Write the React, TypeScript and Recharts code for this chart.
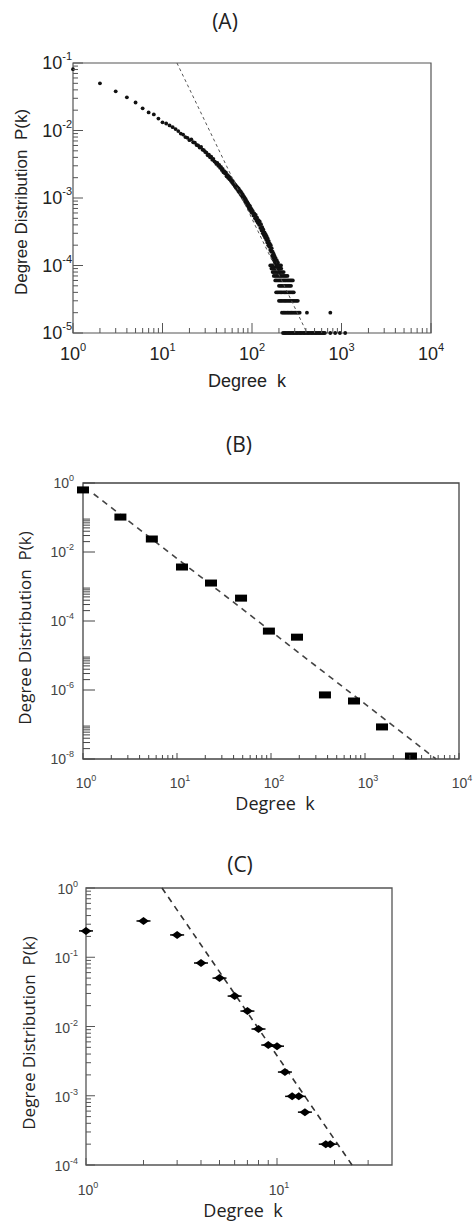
import { ReferenceArea, Scatter, ScatterChart, XAxis, YAxis } from "recharts";

// ---- panel A: degree distribution, dense dots ----
const degA = [
  1, 2, 3, 4, 5, 6, 7, 8, 9, 10, 11, 12, 13, 14, 15, 16, 17, 18, 19, 20, 21, 22, 23, 24, 25, 26, 27, 28, 29, 30,
  31, 32, 33, 34, 35, 36, 37, 38, 39, 40, 41, 42, 43, 44, 45, 46, 47, 48, 49, 50, 51, 52, 53, 54, 55, 56, 57, 58,
  59, 60, 61, 62, 63, 64, 65, 66, 67, 68, 69, 70, 71, 72, 73, 74, 75, 76, 77, 78, 79, 80, 81, 82, 83, 84, 85, 86,
  87, 88, 89, 90, 91, 92, 93, 94, 95, 96, 97, 98, 99, 100, 102, 104, 106, 108, 110, 112, 114, 116, 118, 120, 122,
  124, 126, 128, 130, 132, 134, 136, 138, 140, 142, 144, 146, 148, 150, 152, 154, 156, 158, 160, 162, 164, 166,
  168, 170, 172, 174, 176, 178, 180, 183, 186, 189, 192, 195, 198,
];
const probA = [
  0.081, 0.05, 0.038, 0.031, 0.026, 0.0213, 0.0185, 0.0173, 0.015, 0.0132, 0.0127, 0.0119, 0.0112, 0.0105, 0.0098,
  0.009, 0.0087, 0.008, 0.0078, 0.0072, 0.0074, 0.0067, 0.0066, 0.0061, 0.006, 0.0056, 0.0057, 0.0052, 0.0051,
  0.0048, 0.0047, 0.0043, 0.0044, 0.004, 0.0041, 0.0037, 0.0038, 0.0035, 0.0034, 0.0032, 0.0033, 0.003, 0.0031,
  0.0028, 0.0029, 0.0026, 0.0027, 0.0024, 0.0025, 0.0023, 0.0024, 0.0021, 0.0022, 0.002, 0.0021, 0.0019, 0.002,
  0.0018, 0.00185, 0.0017, 0.00178, 0.0016, 0.00166, 0.0015, 0.00158, 0.00142, 0.0015, 0.00136, 0.00144, 0.00128,
  0.00138, 0.00122, 0.0013, 0.00116, 0.00124, 0.0011, 0.00118, 0.00104, 0.00112, 0.00098, 0.00106, 0.00094, 0.001,
  0.00088, 0.00096, 0.00084, 0.0009, 0.00079, 0.00086, 0.00076, 0.00082, 0.00072, 0.00078, 0.00068, 0.00076,
  0.00066, 0.00071, 0.00062, 0.00068, 0.0006, 0.00064, 0.00055, 0.00059, 0.0005, 0.00056, 0.00046, 0.00051,
  0.00043, 0.00047, 0.0004, 0.00045, 0.00036, 0.00041, 0.00033, 0.00037, 0.0003, 0.00034, 0.00028, 0.00031,
  0.00026, 0.00029, 0.00024, 0.00027, 0.00022, 0.00025, 0.0002, 0.00023, 0.00019, 0.00021, 0.00017, 0.0002,
  0.00016, 0.00018, 0.00014, 0.00016, 0.00013, 0.00015, 0.00012, 0.00014, 0.00011, 0.00013, 0.0001, 0.00012,
  0.00009, 0.00011, 0.00008,
];
// low-count tail: one row of degrees per probability level
const tailProbA = [1e-5, 2e-5, 3e-5, 4e-5, 5e-5, 6e-5, 7e-5, 8e-5, 9e-5, 1e-4];
const tailDegA = [
  [222, 230, 238, 246, 255, 264, 273, 283, 293, 303, 314, 325, 337, 349, 361, 374, 387, 401, 415, 430, 445, 461,
    477, 494, 511, 530, 548, 568, 588, 609, 630, 652, 750, 850, 960, 1100],
  [216, 224, 232, 240, 249, 258, 267, 276, 286, 296, 307, 318, 329, 341, 411, 750],
  [200, 207, 214, 222, 230, 238, 246, 255, 264, 273, 283, 293, 303, 314, 325],
  [186, 193, 200, 207, 214, 222, 230, 238, 246, 255, 264, 273, 283, 293],
  [200, 207, 214, 222, 230, 238, 246, 255, 264, 273],
  [182, 188, 195, 202, 209, 216, 224, 232, 240, 249, 258, 267, 276, 286],
  [175, 181, 188, 195, 202, 209, 216, 224, 232, 240, 249],
  [170, 176, 182, 189, 196, 203, 210, 218, 226],
  [165, 171, 177, 184, 191, 198, 205, 212],
  [160, 166, 172, 178, 184, 190, 197, 204, 211],
];
const fitKA = [14.5, 412];
const fitPA = [0.1, 1e-5];

// ---- panel B: binned distribution ----
const degB = [1, 2.5, 5.4, 11.3, 23, 48, 95, 189, 375, 764, 1517, 3083];
const probB = [0.63, 0.103, 0.0238, 0.00367, 0.00126, 4.6e-4, 5.1e-5, 3.4e-5, 7.2e-7, 4.8e-7, 8.5e-8, 1.22e-8];
const fitKB = [1.3, 5700];
const fitPB = [0.48, 1e-8];

// ---- panel C ----
const degC = [1, 2, 3, 4, 5, 6, 7, 8, 9, 10, 11, 12, 13, 14, 18, 19];
const probC = [
  0.24, 0.334, 0.21, 0.0826, 0.05, 0.0275, 0.0167, 0.0092, 0.0054, 0.0052, 0.0022, 0.00098, 0.00098, 0.00058,
  0.0002, 0.0002,
];
const fitKC = [2.5, 24.7];
const fitPC = [1, 1e-4];

const zip = (ks: number[], ps: number[]) => ks.map((k, i) => ({ k, p: ps[i] }));

const dataA = [
  ...zip(degA, probA),
  ...tailDegA.flatMap((ks, i) => ks.map((k) => ({ k, p: tailProbA[i] }))),
];
const dataB = zip(degB, probB);
const dataC = zip(degC, probC);

// tick lists: multipliers inside each decade
const logTicks = (exps: number[], mults: number[]) => exps.flatMap((e) => mults.map((m) => m * Math.pow(10, e)));
const ALL = [1, 2, 3, 4, 5, 6, 7, 8, 9];

const isDecade = (v: number) => {
  const l = Math.log10(v);
  return Math.abs(l - Math.round(l)) < 1e-9;
};

type AxisStyle = {
  color: string;
  font: string;
  size: number;
  sup: number;
  rise: number;
  major: number;
  minor: number;
  gap: number;
  base: number;
  dx: number;
  labels?: number[];
};

const shouldLabel = (v: number, s: AxisStyle) =>
  s.labels ? s.labels.some((l) => Math.abs(l - v) / l < 1e-9) : isDecade(v);

const Pow = ({ x, y, v, s, anchor }: { x: number; y: number; v: number; s: AxisStyle; anchor: string }) => (
  <text x={x} y={y} textAnchor={anchor} fontSize={s.size} fill={s.color} fontFamily={s.font}>
    10
    <tspan dy={-s.rise} fontSize={s.sup}>
      {`${Math.round(Math.log10(v))}`}
    </tspan>
  </text>
);

const xTick = (s: AxisStyle, axisColor: string) => (props: any) => {
  const { x, y, payload } = props;
  const v = payload.value as number;
  const major = isDecade(v);
  return (
    <g>
      <line x1={x} x2={x} y1={y} y2={y - (major ? s.major : s.minor)} stroke={axisColor} strokeWidth={1} />
      {shouldLabel(v, s) && <Pow x={x + s.dx} y={y + s.base} v={v} s={s} anchor="middle" />}
    </g>
  );
};

const yTick = (s: AxisStyle, axisColor: string) => (props: any) => {
  const { x, y, payload } = props;
  const v = payload.value as number;
  const major = isDecade(v);
  return (
    <g>
      <line x1={x} x2={x + (major ? s.major : s.minor)} y1={y} y2={y} stroke={axisColor} strokeWidth={1} />
      {shouldLabel(v, s) && <Pow x={x - s.gap} y={y + s.base} v={v} s={s} anchor="end" />}
    </g>
  );
};

const dot = (r: number) => (p: any) => <circle cx={p.cx} cy={p.cy} r={r} fill="#111" />;
const block = (p: any) => <rect x={p.cx - 6} y={p.cy - 3.5} width={12} height={7} fill="#000" />;
const diamond = (p: any) => (
  <g>
    <line x1={p.cx - 7} x2={p.cx + 7} y1={p.cy} y2={p.cy} stroke="#000" strokeWidth={1.5} />
    <polygon
      points={`${p.cx - 5.5},${p.cy} ${p.cx},${p.cy - 4} ${p.cx + 5.5},${p.cy} ${p.cx},${p.cy + 4}`}
      fill="#000"
    />
  </g>
);
const none = () => <g />;

const SANS = "'Liberation Sans', Arial, sans-serif";
const OPEN = "'Open Sans', 'Noto Sans', sans-serif";

const Label = ({ x, y, text, size, font, rotate }: any) => (
  <div
    style={{
      position: "absolute",
      left: x,
      top: y,
      transform: `translate(-50%, -50%)${rotate ? " rotate(-90deg)" : ""}`,
      fontFamily: font,
      fontSize: size,
      lineHeight: 1,
      color: "#222",
      whiteSpace: "pre",
    }}
  >
    {text}
  </div>
);

const axA: AxisStyle = { color: "#222", font: SANS, size: 18, sup: 11, rise: 9, major: 10, minor: 5, gap: 1, base: 27, dx: 0 };
const axAy: AxisStyle = { ...axA, base: 6 };
const axB: AxisStyle = { color: "#444", font: SANS, size: 14, sup: 9, rise: 7, major: 6, minor: 4, gap: 9, base: 29, dx: 3 };
const axBy: AxisStyle = { ...axB, major: 12, minor: 7, base: 5 };
const axC: AxisStyle = { ...axB, major: 7, minor: 5, base: 30, dx: 2, labels: [1, 10] };
const axCy: AxisStyle = { ...axB, major: 9, minor: 5, gap: 8, base: 6 };

export default function App() {
  return (
    <div style={{ position: "absolute", left: 0, top: 0, width: 476, height: 1223, background: "#fff" }}>
      <Label x={225} y={21} text="(A)" size={21} font={OPEN} />
      <Label x={21} y={202} text="Degree Distribution  P(k)" size={17} font={SANS} rotate />
      <Label x={247} y={381} text="Degree  k" size={18} font={SANS} />
      <div style={{ position: "absolute", left: 0, top: 0 }}>
        <ScatterChart width={476} height={400} margin={{ top: 63, right: 45, bottom: 27, left: 13 }}>
          <XAxis
            type="number"
            dataKey="k"
            scale="log"
            domain={[1, 10000]}
            ticks={[...logTicks([0, 1, 2, 3], ALL), 10000]}
            interval={0}
            tickSize={0}
            tickMargin={0}
            axisLine={false}
            tickLine={false}
            height={40}
            tick={xTick(axA, "#555")}
          />
          <YAxis
            type="number"
            dataKey="p"
            scale="log"
            domain={[1e-5, 0.1]}
            ticks={[...logTicks([-5, -4, -3, -2], ALL), 0.1]}
            interval={0}
            tickSize={0}
            tickMargin={0}
            axisLine={false}
            tickLine={false}
            width={60}
            tick={yTick(axAy, "#555")}
          />
          <ReferenceArea x1={1} x2={10000} y1={1e-5} y2={0.1} fill="none" stroke="#555" strokeWidth={1.2} />
          <Scatter data={dataA} shape={dot(1.9)} isAnimationActive={false} />
          <Scatter
            data={zip(fitKA, fitPA)}
            shape={none}
            line={{ stroke: "#555", strokeWidth: 1, strokeDasharray: "3 3" }}
            isAnimationActive={false}
          />
        </ScatterChart>
      </div>

      <Label x={239} y={444} text="(B)" size={21} font={OPEN} />
      <Label x={24} y={628} text="Degree Distribution  P(k)" size={17} font={OPEN} rotate />
      <Label x={275} y={803} text="Degree  k" size={18} font={OPEN} />
      <div style={{ position: "absolute", left: 0, top: 420 }}>
        <ScatterChart width={476} height={400} margin={{ top: 63, right: 17, bottom: 21, left: 23 }}>
          <XAxis
            type="number"
            dataKey="k"
            scale="log"
            domain={[1, 10000]}
            ticks={[...logTicks([0, 1, 2, 3], ALL), 10000]}
            interval={0}
            tickSize={0}
            tickMargin={0}
            axisLine={false}
            tickLine={false}
            height={40}
            tick={xTick(axB, "#444")}
          />
          <YAxis
            type="number"
            dataKey="p"
            scale="log"
            domain={[1e-8, 1]}
            ticks={[...logTicks([-8, -6, -4, -2], ALL), 1]}
            interval={0}
            tickSize={0}
            tickMargin={0}
            axisLine={false}
            tickLine={false}
            width={60}
            tick={yTick(axBy, "#444")}
          />
          <ReferenceArea x1={1} x2={10000} y1={1e-8} y2={1} fill="none" stroke="#444" strokeWidth={1.3} />
          <Scatter
            data={zip(fitKB, fitPB)}
            shape={none}
            line={{ stroke: "#444", strokeWidth: 1.6, strokeDasharray: "6 5" }}
            isAnimationActive={false}
          />
          <Scatter data={dataB} shape={block} isAnimationActive={false} />
        </ScatterChart>
      </div>

      <Label x={240} y={864} text="(C)" size={21} font={OPEN} />
      <Label x={28} y={1033} text="Degree Distribution  P(k)" size={17} font={OPEN} rotate />
      <Label x={243} y={1210} text="Degree  k" size={18} font={OPEN} />
      <div style={{ position: "absolute", left: 0, top: 830 }}>
        <ScatterChart width={476} height={380} margin={{ top: 58, right: 84, bottom: 5, left: 26 }}>
          <XAxis
            type="number"
            dataKey="k"
            scale="log"
            domain={[1, 40]}
            ticks={[...ALL, 10, 20, 30]}
            interval={0}
            tickSize={0}
            tickMargin={0}
            axisLine={false}
            tickLine={false}
            height={40}
            tick={xTick(axC, "#555")}
          />
          <YAxis
            type="number"
            dataKey="p"
            scale="log"
            domain={[1e-4, 1]}
            ticks={[...logTicks([-4, -3, -2, -1], ALL), 1]}
            interval={0}
            tickSize={0}
            tickMargin={0}
            axisLine={false}
            tickLine={false}
            width={60}
            tick={yTick(axCy, "#555")}
          />
          <ReferenceArea x1={1} x2={40} y1={1e-4} y2={1} fill="none" stroke="#555" strokeWidth={1.3} />
          <Scatter
            data={zip(fitKC, fitPC)}
            shape={none}
            line={{ stroke: "#333", strokeWidth: 1.6, strokeDasharray: "6 5" }}
            isAnimationActive={false}
          />
          <Scatter data={dataC} shape={diamond} isAnimationActive={false} />
        </ScatterChart>
      </div>
    </div>
  );
}
